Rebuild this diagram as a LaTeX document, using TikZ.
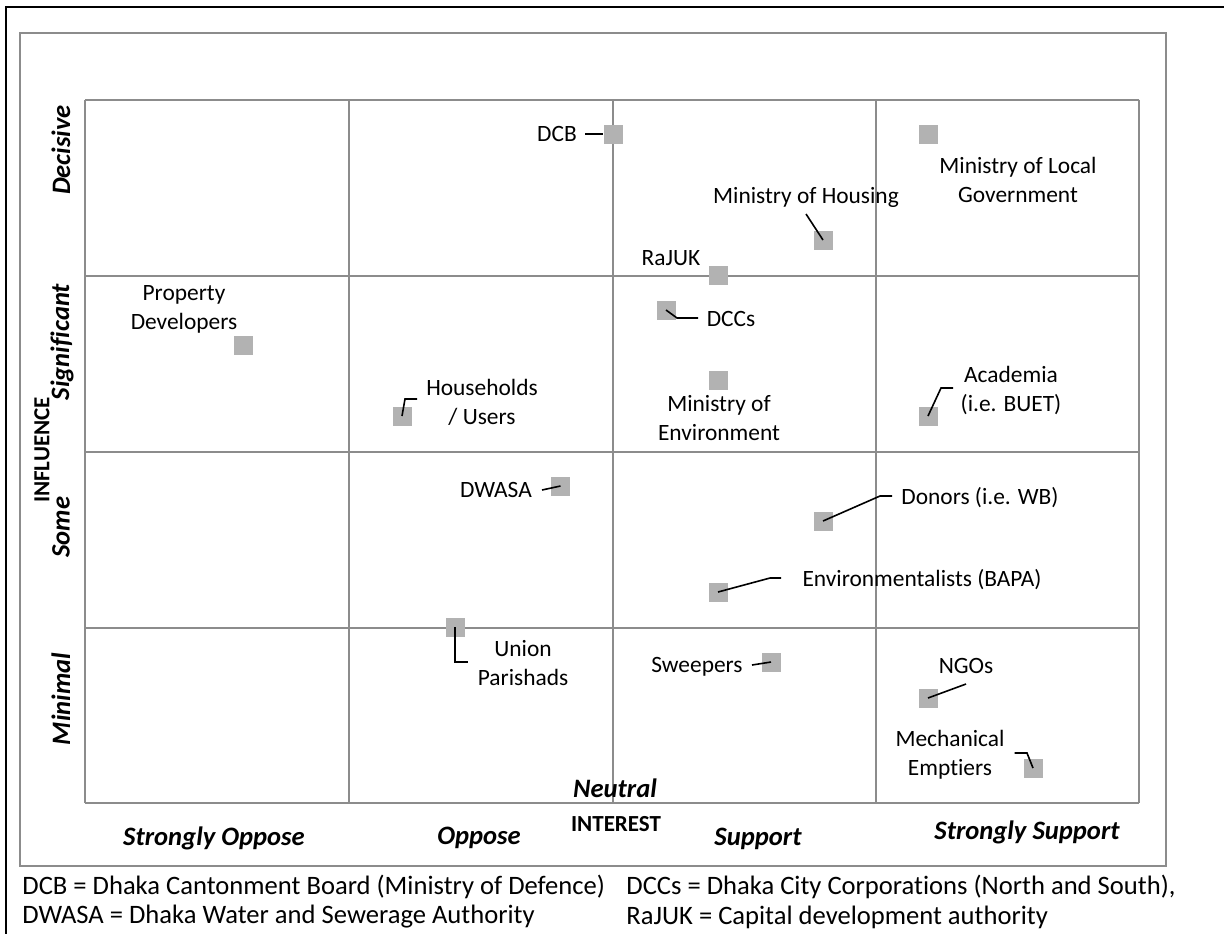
\documentclass[tikz,border=0pt]{standalone}
\usepackage{fontspec}
\setmainfont{Carlito}[Ligatures=NoCommon]
\definecolor{gridgray}{RGB}{140,140,140}
\definecolor{boxgray}{RGB}{178,178,178}

\tikzset{
  stake/.style={fill=boxgray, minimum size=9.5pt, inner sep=0pt},
  lbl/.style={font=\fontsize{11.7}{14.5}\selectfont, align=center, inner sep=1pt},
  lead/.style={black, line width=0.8pt},
  gline/.style={gridgray, line width=1pt},
  axlbl/.style={font=\fontsize{13.3}{15}\selectfont\bfseries\itshape},
  axname/.style={font=\fontsize{11.5}{13}\selectfont\bfseries},
  foot/.style={font=\fontsize{13.3}{15}\selectfont, anchor=west, inner sep=0pt},
}

\begin{document}
\begin{tikzpicture}[x=0.5pt, y=-0.5pt]
\useasboundingbox (0,0) rectangle (1224,933);
% Frames
\draw[line width=1pt] (6,940) -- (6,7) -- (1230,7);
\draw[gline] (20,33) rectangle (1166,866);

% Grid of the matrix
\foreach \x in {85,349,613,876,1139} \draw[gline] (\x,99.5) -- (\x,803);
\foreach \y in {99.5,276,452,628,803} \draw[gline] (85,\y) -- (1139,\y);

% Influence levels
\node[axlbl, rotate=90] (decisive) at (61,150) {Decisive};
\node[axlbl, rotate=90] (signif) at (62,342) {Significant};
\node[axlbl, rotate=90] (some) at (61,527) {Some};
\node[axlbl, rotate=90] (minimal) at (61,699) {Minimal};
\node[axname, rotate=90] (influence) at (42,450) {INFLUENCE};

% Interest levels
\node[axlbl] (strongopp) at (214,838) {Strongly Oppose};
\node[axlbl] (oppose) at (479,838) {Oppose};
\node[axlbl] (neutral) at (615,788) {Neutral};
\node[axname] (interest) at (616,824) {INTEREST};
\node[axlbl] (support) at (758,839) {Support};
\node[axlbl] (strongsup) at (1027,832) {Strongly Support};

% Stakeholders
\node[stake] (propdev) at (243,345) {};
\node[stake] (house) at (402,416) {};
\node[stake] (dcb) at (613,134) {};
\node[stake] (dwasa) at (560.5,486) {};
\node[stake] (union) at (455,627) {};
\node[stake] (mlg) at (928,134) {};
\node[stake] (mhouse) at (823,240) {};
\node[stake] (rajuk) at (718,275) {};
\node[stake] (dccs) at (666,310) {};
\node[stake] (menv) at (718,380) {};
\node[stake] (acad) at (928,416) {};
\node[stake] (donors) at (823,521) {};
\node[stake] (envir) at (718,592) {};
\node[stake] (sweep) at (771,662) {};
\node[stake] (ngos) at (928,698) {};
\node[stake] (mech) at (1033,768) {};

% Their labels
\node[lbl] (propdevL) at (184,309) {Property\\Developers};
\node[lbl] (houseL) at (482,402) {Households\\/ Users};
\node[lbl] (dcbL) at (557,134) {DCB};
\node[lbl] (dwasaL) at (496,490) {DWASA};
\node[lbl] (unionL) at (523,663) {Union\\Parishads};
\node[lbl] (mlgL) at (1018,180) {Ministry of Local\\Government};
\node[lbl] (mhouseL) at (806,197) {Ministry of Housing};
\node[lbl] (rajukL) at (671,258) {RaJUK};
\node[lbl] (dccsL) at (731,319) {DCCs};
\node[lbl] (menvL) at (719,418) {Ministry of\\Environment};
\node[lbl] (acadL) at (1011,390) {Academia\\(i.e. BUET)};
\node[lbl] (donorsL) at (980,498) {Donors (i.e. WB)};
\node[lbl] (envirL) at (922,580) {Environmentalists (BAPA)};
\node[lbl] (sweepL) at (697,667) {Sweepers};
\node[lbl] (ngosL) at (966,666) {NGOs};
\node[lbl] (mechL) at (950,755) {Mechanical\\Emptiers};

% Leader lines
\coordinate (houseA) at (405,399);
\coordinate (houseB) at (417,399);
\coordinate (dcbA) at (585,134);
\coordinate (mhouseA) at (806,214);
\coordinate (dccsA) at (677,318);
\coordinate (dccsB) at (698,318);
\coordinate (acadA) at (941,388);
\coordinate (acadB) at (953,388);
\coordinate (dwasaA) at (542,490);
\coordinate (donorsA) at (880,496);
\coordinate (donorsB) at (892,496);
\coordinate (envirA) at (770,578);
\coordinate (envirB) at (781,578);
\coordinate (unionA) at (455,662);
\coordinate (unionB) at (468,662);
\coordinate (sweepA) at (752,665);
\coordinate (ngosA) at (966,684);
\coordinate (mechA) at (1014.5,753);
\coordinate (mechB) at (1027,753);

\draw[lead] (house.center) -- (houseA) -- (houseB);
\draw[lead] (dcbA) -- (dcb.west);
\draw[lead] (mhouseA) -- (mhouse.center);
\draw[lead] (dccs.center) -- (dccsA) -- (dccsB);
\draw[lead] (acad.center) -- (acadA) -- (acadB);
\draw[lead] (dwasaA) -- (dwasa.center);
\draw[lead] (donors.center) -- (donorsA) -- (donorsB);
\draw[lead] (envir.center) -- (envirA) -- (envirB);
\draw[lead] (union.center) -- (unionA) -- (unionB);
\draw[lead] (sweepA) -- (sweep.center);
\draw[lead] (ngos.center) -- (ngosA);
\draw[lead] (mechA) -- (mechB) -- (mech.center);

% Abbreviations
\node[foot] (abbr1) at (22,887) {DCB = Dhaka Cantonment Board (Ministry of Defence)};
\node[foot] (abbr2) at (22,917) {DWASA = Dhaka Water and Sewerage Authority};
\node[foot] (abbr3) at (626,887) {DCCs = Dhaka City Corporations (North and South),};
\node[foot] (abbr4) at (626,917) {RaJUK = Capital development authority};
\end{tikzpicture}
\end{document}
